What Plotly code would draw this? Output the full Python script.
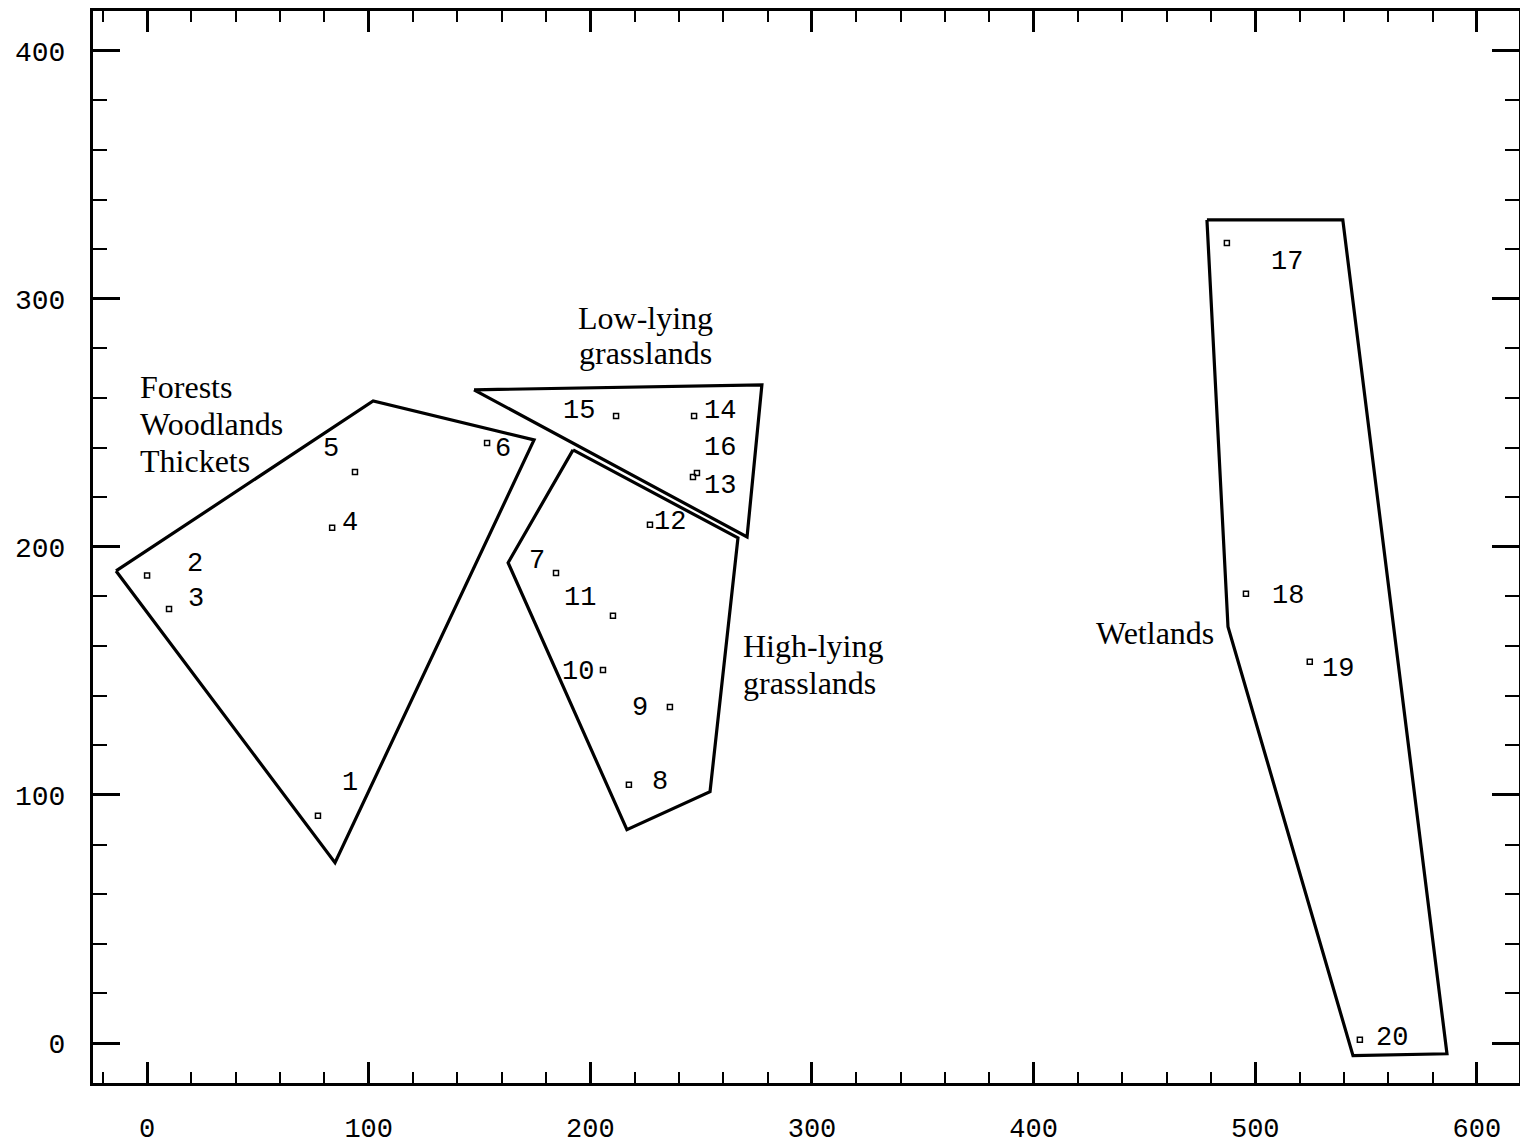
import plotly.graph_objects as go

# ---- data ----
point_ids = ["1", "2", "3", "4", "5", "6", "7", "8", "9", "10",
             "11", "12", "13", "14", "15", "16", "17", "18", "19", "20"]
point_x = [77.1, 0.0, 9.9, 83.5, 93.8, 153.4, 184.5, 217.4, 235.9, 205.7,
           210.2, 226.9, 246.3, 246.8, 211.6, 248.1, 487.2, 495.8, 524.6, 547.2]
point_y = [91.6, 188.5, 175.0, 207.7, 230.2, 241.9, 189.5, 104.1, 135.5, 150.4,
           172.2, 208.9, 228.2, 252.8, 252.8, 229.8, 322.5, 181.1, 153.7, 1.3]
label_x = [91.6, 21.7, 22.1, 91.6, 83.0, 160.6, 175.9, 231.4, 222.4, 194.4,
           195.3, 235.9, 258.5, 258.5, 194.9, 258.5, 514.3, 514.7, 537.3, 561.6]
label_y = [104.9, 193.1, 179.0, 209.7, 239.5, 239.5, 194.4, 105.3, 135.1, 149.6,
           179.4, 209.9, 224.4, 254.8, 254.8, 239.8, 314.9, 180.3, 150.8, 2.1]

forest_x = [-14.0, 102.0, 174.6, 84.8]
forest_y = [190.3, 258.8, 243.1, 72.7]
low_x = [147.5, 277.4, 270.7]
low_y = [263.3, 265.3, 204.0]
high_x = [192.2, 266.6, 254.0, 216.5, 162.9]
high_y = [239.1, 203.6, 101.3, 86.0, 193.6]
wet_x = [478.2, 539.5, 586.5, 544.1, 487.7]
wet_y = [331.8, 331.8, -4.3, -5.1, 167.8]

region_lines = ["Forests", "Woodlands", "Thickets",
                "Low-lying", "grasslands",
                "High-lying", "grasslands",
                "Wetlands"]
region_x = [-4.1, -4.1, -4.1, 224.7, 224.7, 268.0, 268.0, 482.3]
region_y = [264.5, 249.6, 234.7, 292.3, 278.2, 160.1, 145.2, 165.3]
region_anchor = ["left", "left", "left", "center", "center", "left", "left", "right"]

x_ticks = [0, 100, 200, 300, 400, 500, 600]
y_ticks = [0, 100, 200, 300, 400]

# ---- figure ----
fig = go.Figure()

for px_, py_ in [(forest_x, forest_y), (low_x, low_y), (high_x, high_y), (wet_x, wet_y)]:
    fig.add_trace(go.Scatter(
        x=px_ + [px_[0]], y=py_ + [py_[0]], mode="lines",
        line=dict(color="black", width=3.2), hoverinfo="skip", showlegend=False))

fig.add_trace(go.Scatter(
    x=point_x, y=point_y, mode="markers",
    marker=dict(symbol="square-open", size=5, color="black", line=dict(width=1.5, color="black")),
    showlegend=False))

mono = "Liberation Mono, Courier New, monospace"
serif = "Liberation Serif, Times New Roman, serif"

for t, lx, ly in zip(point_ids, label_x, label_y):
    fig.add_annotation(x=lx, y=ly, text=t, showarrow=False,
                       xanchor="center", yanchor="middle",
                       font=dict(family=mono, size=27, color="black"))

for t, rx, ry, anc in zip(region_lines, region_x, region_y, region_anchor):
    fig.add_annotation(x=rx, y=ry, text=t, showarrow=False,
                       xanchor=anc, yanchor="middle",
                       font=dict(family=serif, size=32, color="black"))

fig.update_layout(
    width=1520, height=1146,
    margin=dict(l=93, r=1, t=11, b=63),
    paper_bgcolor="white", plot_bgcolor="white",
    showlegend=False,
)
fig.update_xaxes(
    range=[-24.4, 619.0], tickvals=x_ticks, ticktext=[str(v) for v in x_ticks],
    ticks="inside", ticklen=21, tickwidth=2.5, tickcolor="black",
    minor=dict(dtick=20, tick0=0, ticks="inside", ticklen=11, tickwidth=2, tickcolor="black", showgrid=False),
    showline=True, linewidth=3, linecolor="black", mirror="ticks",
    showgrid=False, zeroline=False, automargin=False,
    tickfont=dict(family=mono, size=27, color="black"),
    ticklabelstandoff=19,
)
fig.update_yaxes(
    range=[-16.1, 416.0], tickvals=y_ticks, ticktext=[str(v) for v in y_ticks],
    ticks="inside", ticklen=27, tickwidth=2.5, tickcolor="black",
    minor=dict(dtick=20, tick0=0, ticks="inside", ticklen=14, tickwidth=2, tickcolor="black", showgrid=False),
    showline=True, linewidth=3, linecolor="black", mirror="ticks",
    showgrid=False, zeroline=False, automargin=False,
    tickfont=dict(family=mono, size=28, color="black"),
    ticklabelstandoff=19,
)

fig.write_html("out.html",
               config={"displayModeBar": False},
               post_script="document.body.style.margin='0px';document.body.style.overflow='hidden';")
